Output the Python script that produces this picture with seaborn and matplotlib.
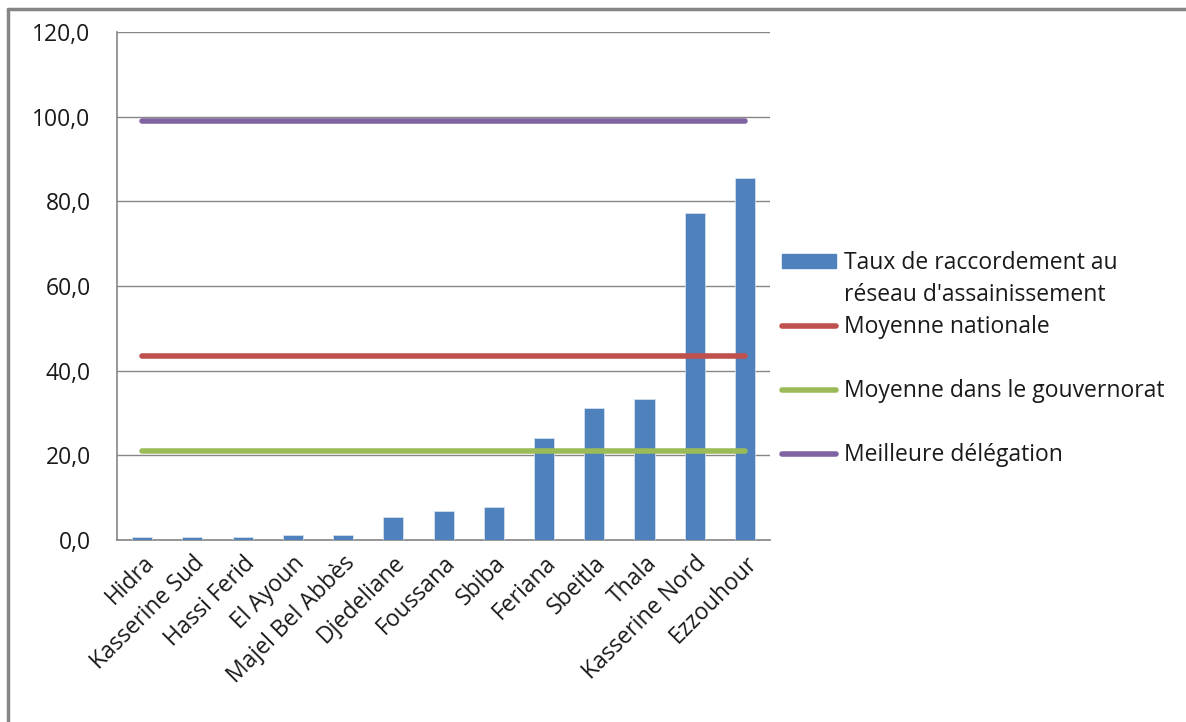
import numpy as np
import seaborn as sns
import matplotlib.pyplot as plt
from matplotlib.lines import Line2D
from matplotlib.patches import Patch
from matplotlib.ticker import FuncFormatter, FixedLocator

# données
delegations = ['Hidra', 'Kasserine Sud', 'Hassi Ferid', 'El Ayoun', 'Majel Bel Abbès',
               'Djedeliane', 'Foussana', 'Sbiba', 'Feriana', 'Sbeitla', 'Thala',
               'Kasserine Nord', 'Ezzouhour']
taux = [0.7, 0.7, 0.7, 1.1, 1.3, 5.4, 6.8, 7.7, 24.1, 31.1, 33.4, 77.2, 85.5]
moyenne_nationale = 43.5
moyenne_gouvernorat = 21.0
meilleure_delegation = 99.0

lbl_taux = ['Taux de raccordement au', "réseau d'assainissement"]
lbl_nat = 'Moyenne nationale'
lbl_gouv = 'Moyenne dans le gouvernorat'
lbl_best = 'Meilleure délégation'

bleu = '#4F81BD'
rouge = '#C0504D'
vert = '#9BBB59'
violet = '#8064A2'
gris = '#868686'
texte = '#1a1a1a'

sns.set_style('white')
plt.rcParams['font.family'] = ['Open Sans', 'DejaVu Sans']
fs = 16.5

fig = plt.figure(figsize=(11.86, 7.22), dpi=100)
ax = fig.add_axes([0.0987, 0.252, 0.5506, 0.7036])

sns.barplot(x=delegations, y=taux, color=bleu, width=0.4, saturation=1,
            edgecolor='#dce6f2', linewidth=0.5, ax=ax, zorder=3)

pos = np.arange(len(delegations))
for val, col in [(moyenne_nationale, rouge), (moyenne_gouvernorat, vert),
                 (meilleure_delegation, violet)]:
    sns.lineplot(x=pos, y=np.full(len(pos), val), color=col, linewidth=4,
                 ax=ax, zorder=4, solid_capstyle='round')

ax.set_xlim(-0.5, len(delegations) - 0.5)
ax.set_ylim(0, 120)
ax.set_yticks(np.arange(0, 121, 20))
ax.yaxis.set_major_formatter(FuncFormatter(lambda v, p: f'{v:.1f}'.replace('.', ',')))
ax.grid(axis='y', color=gris, linewidth=1, zorder=0)
ax.set_axisbelow(True)

for s in ['top', 'right']:
    ax.spines[s].set_visible(False)
for s in ['left', 'bottom']:
    ax.spines[s].set_color(gris)
    ax.spines[s].set_linewidth(1.2)

ax.set_xticks(pos)
ax.set_xticklabels(delegations, rotation=45, ha='right', rotation_mode='anchor',
                   fontsize=fs, color=texte)
ax.xaxis.set_minor_locator(FixedLocator(np.arange(-0.5, len(delegations), 1)))
ax.tick_params(axis='x', which='major', length=0, pad=8)
ax.tick_params(axis='x', which='minor', length=7, color=gris, direction='out')
ax.tick_params(axis='y', length=7, color=gris, direction='out', labelsize=fs,
               labelcolor=texte, pad=12)
ax.set_xlabel('')
ax.set_ylabel('')

vide = Line2D([], [], color='none')
handles = [Patch(color=bleu), vide,
           Line2D([], [], color=rouge, lw=4), vide,
           Line2D([], [], color=vert, lw=4), vide,
           Line2D([], [], color=violet, lw=4)]
labels = [lbl_taux[0], lbl_taux[1], lbl_nat, '', lbl_gouv, '', lbl_best]
fig.legend(handles, labels, loc='upper left', bbox_to_anchor=(0.659, 0.652),
           frameon=False, fontsize=fs, labelspacing=0.35, handlelength=2.36,
           handleheight=0.55, handletextpad=0.35, labelcolor=texte,
           borderpad=0, borderaxespad=0)

# cadre du graphique
fig.add_artist(Line2D([0.0067, 0.0067], [0, 0.988], color=gris, lw=2.5,
                      transform=fig.transFigure))
fig.add_artist(Line2D([0.0067, 1.0], [0.988, 0.988], color=gris, lw=2.5,
                      transform=fig.transFigure))

fig.savefig('out.png', dpi=100)
